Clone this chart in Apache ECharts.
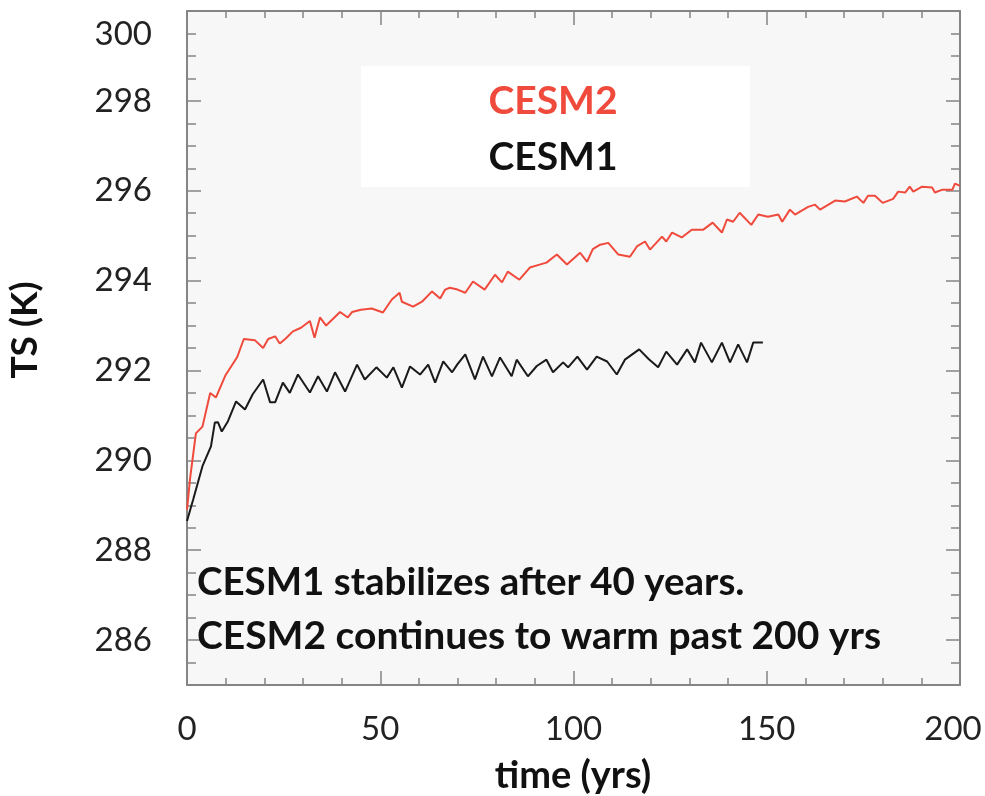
<!DOCTYPE html>
<html>
<head>
<meta charset="utf-8">
<script src="https://cdn.jsdelivr.net/npm/echarts@6/dist/echarts.min.js"></script>
<style>
html,body{margin:0;padding:0;background:#fff;}
#chart{width:985px;height:796px;}
</style>
</head>
<body>
<div id="chart"></div>
<script>
// ---- data ----
const cesm2Years = [0,0.8,2.3,4,6,7.5,10,13,14.7,17.6,19.7,21,22.8,24,25.4,27.4,29.5,31.8,33,34.4,36,39.6,41.6,42.7,45,47.8,50.7,53,55,55.6,58.5,60.8,63.4,65.5,66.8,68,70,72,74,77,79.7,81.5,83,86,88.7,91,93,95.7,98.3,101.7,103.5,105,106.9,109,111.6,114.6,116.4,118.5,119.8,122.9,124,125.5,128,130.6,133.5,136,138.4,139.7,141.3,143,146,147.8,150.3,153,154,156,157.3,160.7,162.5,163.8,167.7,170.2,173.3,175,176.2,178,180,182.7,184,185.8,187,187.9,190.2,192.8,193.5,195.3,198,198.7,200];
const cesm2Values = [288.9,289.6,290.6,290.75,291.5,291.4,291.9,292.3,292.7,292.67,292.5,292.7,292.76,292.6,292.7,292.87,292.95,293.1,292.73,293.18,293.0,293.3,293.18,293.3,293.35,293.38,293.29,293.58,293.73,293.53,293.42,293.53,293.76,293.6,293.8,293.84,293.8,293.73,293.98,293.8,294.13,293.96,294.2,294.02,294.29,294.35,294.4,294.58,294.36,294.62,294.42,294.7,294.8,294.84,294.58,294.53,294.76,294.87,294.69,294.98,294.87,295.07,294.96,295.13,295.13,295.29,295.07,295.36,295.31,295.51,295.24,295.47,295.42,295.47,295.31,295.58,295.47,295.64,295.69,295.58,295.78,295.76,295.87,295.73,295.89,295.89,295.73,295.82,295.98,295.96,296.09,295.98,296.09,296.07,295.96,296.02,296.02,296.16,296.11];

const cesm1Years = [0,1.6,4,6.2,7.2,8,9,10.6,12.7,15,17,19.7,21.5,22.8,24.8,26.6,28.7,31.8,33.9,36.2,38.3,40.9,44,46,49,51.7,53.4,55.6,57.7,60.3,62.4,64.2,66.3,68.6,69.9,72,74.5,76.6,78.9,81,84,85.3,88.2,90.5,93,94.7,97.3,98.6,101,103.5,106,108.7,111.2,113.3,117,119.5,121.9,124,126.8,129.4,131.4,133,135.8,138.4,140.5,142.6,144.9,146.5,149];
const cesm1Values = [288.65,289.13,289.87,290.31,290.84,290.85,290.64,290.87,291.31,291.13,291.47,291.8,291.29,291.29,291.73,291.5,291.91,291.51,291.87,291.53,291.96,291.53,292.13,291.8,292.07,291.84,292.07,291.62,292.09,291.91,292.13,291.73,292.2,291.96,292.13,292.36,291.8,292.31,291.87,292.29,291.87,292.24,291.87,292.1,292.24,291.96,292.18,292.07,292.31,292.02,292.31,292.2,291.91,292.24,292.47,292.25,292.07,292.42,292.13,292.47,292.18,292.62,292.18,292.62,292.18,292.58,292.18,292.62,292.62];

const seriesNames = ['CESM2','CESM1'];
const annotationLines = ['CESM1 stabilizes after 40 years.','CESM2 continues to warm past 200 yrs'];
const xTitle = 'time (yrs)';
const yTitle = 'TS (K)';

const pairs = (xs, ys) => xs.map((x, i) => [x, ys[i]]);

const FONT = 'Lato';
const AXIS_COLOR = '#858585';
const RED = '#f04a3c';

const axisLine = () => ({show: true, onZero: false, lineStyle: {color: AXIS_COLOR, width: 2}});
const tickMajor = () => ({show: true, inside: true, length: 14, lineStyle: {color: AXIS_COLOR, width: 1.5}});
const tickMinor = (n, len) => ({show: true, splitNumber: n, length: len, lineStyle: {color: AXIS_COLOR, width: 1.5}});

const chart = echarts.init(document.getElementById('chart'), null, {renderer: 'canvas'});
chart.setOption({
  animation: false,
  backgroundColor: '#ffffff',
  grid: {left: 187, right: 25, top: 11, bottom: 111, show: false},
  xAxis: [{
    type: 'value', min: 0, max: 200, interval: 50, position: 'bottom',
    axisLine: axisLine(), axisTick: tickMajor(), minorTick: tickMinor(5, 7),
    splitLine: {show: false},
    axisLabel: {
      margin: 28, fontFamily: FONT, fontSize: 33, color: '#222',
      formatter: v => v === 200 ? '{r|200}' : String(v),
      rich: {r: {fontFamily: FONT, fontSize: 33, color: '#222', padding: [0, 14, 0, 0]}}
    }
  }, {
    type: 'value', min: 0, max: 200, interval: 50, position: 'top',
    axisLine: axisLine(), axisTick: tickMajor(), minorTick: tickMinor(5, 7),
    splitLine: {show: false}, axisLabel: {show: false}
  }],
  yAxis: [{
    type: 'value', min: 285, max: 300, splitNumber: 7, position: 'left',
    axisLine: axisLine(), axisTick: tickMajor(), minorTick: tickMinor(4, 9),
    splitLine: {show: false},
    axisLabel: {
      margin: 35, fontFamily: FONT, fontSize: 33, color: '#222',
      formatter: v => v === 285 ? '' : (v === 300 ? '{t|300}' : String(v)),
      rich: {t: {fontFamily: FONT, fontSize: 33, color: '#222', padding: [46, 0, 0, 0]}}
    }
  }, {
    type: 'value', min: 285, max: 300, splitNumber: 7, position: 'right',
    axisLine: axisLine(), axisTick: tickMajor(), minorTick: tickMinor(4, 9),
    splitLine: {show: false}, axisLabel: {show: false}
  }],
  series: [{
    name: seriesNames[0], type: 'line', data: pairs(cesm2Years, cesm2Values),
    showSymbol: false, symbol: 'none', lineStyle: {color: RED, width: 2}, z: 3
  }, {
    name: seriesNames[1], type: 'line', data: pairs(cesm1Years, cesm1Values),
    showSymbol: false, symbol: 'none', lineStyle: {color: '#1a1a1a', width: 2}, z: 3
  }],
  graphic: [
    {type: 'rect', shape: {x: 187, y: 11, width: 773, height: 674}, style: {fill: '#f7f7f7'}, z: -10, silent: true},
    {type: 'rect', shape: {x: 361, y: 66, width: 389, height: 121}, style: {fill: '#ffffff'}, z: -5},
    {type: 'text', x: 553, y: 101, z: 11, style: {text: seriesNames[0], fill: RED, font: 'bold 39px ' + FONT, align: 'center', verticalAlign: 'middle'}},
    {type: 'text', x: 553, y: 157, z: 11, style: {text: seriesNames[1], fill: '#111', font: 'bold 39px ' + FONT, align: 'center', verticalAlign: 'middle'}},
    {type: 'text', x: 197, y: 583, z: 11, style: {text: annotationLines[0], fill: '#111', font: 'bold 38.5px ' + FONT, align: 'left', verticalAlign: 'middle'}},
    {type: 'text', x: 197, y: 636, z: 11, style: {text: annotationLines[1], fill: '#111', font: 'bold 39px ' + FONT, align: 'left', verticalAlign: 'middle'}},
    {type: 'text', x: 25, y: 330, rotation: Math.PI / 2, z: 11, style: {text: yTitle, fill: '#111', font: 'bold 37px ' + FONT, align: 'center', verticalAlign: 'middle'}},
    {type: 'text', x: 573, y: 776, z: 11, style: {text: xTitle, fill: '#111', font: 'bold 38px ' + FONT, align: 'center', verticalAlign: 'middle'}}
  ]
});
</script>
</body>
</html>
